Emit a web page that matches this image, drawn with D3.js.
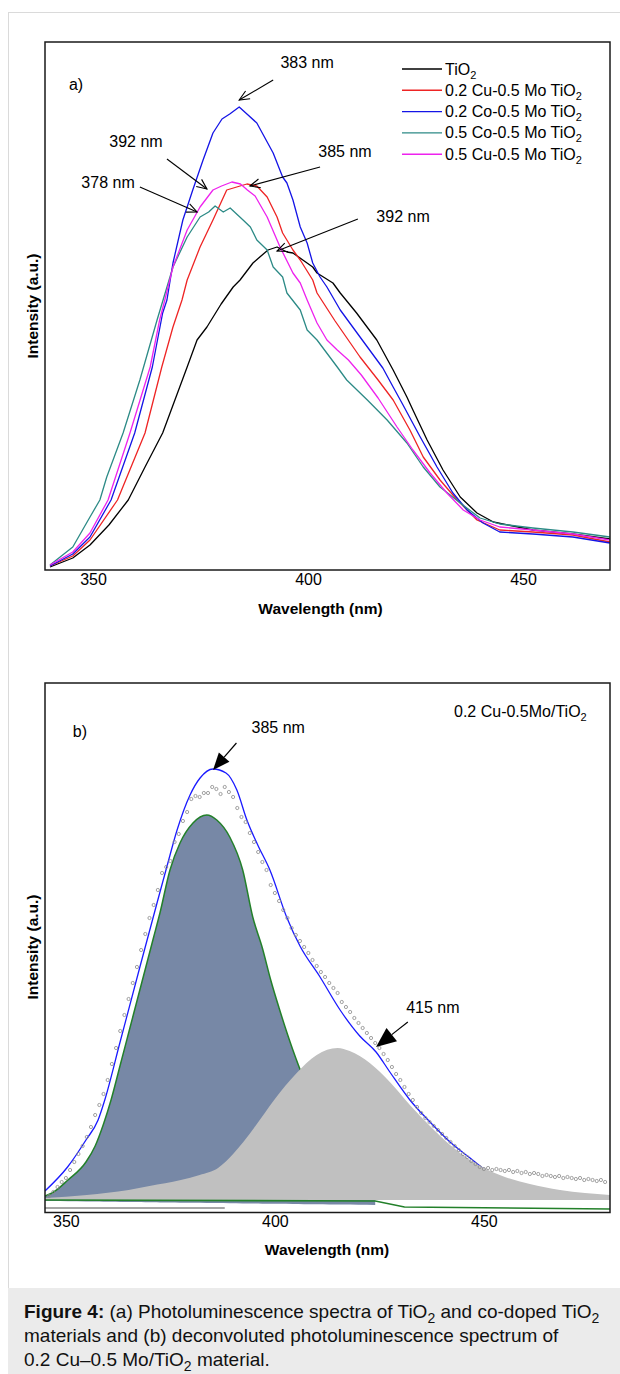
<!DOCTYPE html>
<html>
<head>
<meta charset="utf-8">
<script src="https://cdn.jsdelivr.net/npm/d3@7/dist/d3.min.js"></script>
<style>
  html, body { margin: 0; padding: 0; background: #ffffff; }
  svg { display: block; font-family: "Liberation Sans", Arial, Helvetica, sans-serif; }
  text { white-space: pre; }
</style>
</head>
<body>
<svg id="figure" width="620" height="1374"></svg>
<script>
// ===== Panel (a): photoluminescence spectra (wavelength in nm, intensity in a.u.) =====
const nmTiO2 = [340.0, 345.3, 349.3, 353.7, 358.2, 362.1, 366.2, 371.9, 374.2, 376.5, 379.8, 382.6, 384.2, 387.2, 388.8, 390.7, 392.8, 395.1, 396.5, 401.1, 402.1, 405.8, 407.5, 411.3, 416.0, 419.8, 423.0, 424.4, 427.7, 431.4, 435.4, 439.3, 443.1, 452.3, 461.6, 470.2];
const plTiO2 = [1.5, 6, 12.5, 22.5, 35, 51.5, 68.5, 101.5, 115, 121.5, 133, 141.5, 145, 153.5, 156.5, 160, 161.5, 159, 158.5, 151.5, 148.5, 143.5, 138.5, 128.5, 115, 100, 86.5, 80, 65, 50, 36.5, 28.5, 24, 20, 18, 15.5];

const nmCu02Mo05 = [340.0, 345.3, 349.3, 355.7, 362.1, 366.0, 368.6, 370.7, 371.9, 374.9, 377.9, 381.1, 384.2, 385.8, 388.1, 390.5, 392.8, 394.1, 396.5, 398.2, 401.1, 402.1, 406.3, 412.1, 416.3, 419.8, 423.7, 426.8, 430.7, 434.7, 439.3, 444.6, 452.3, 461.6, 470.2];
const plCu02Mo05 = [2, 7, 15, 35, 68.5, 101.5, 121.5, 135, 145, 161.5, 175, 190, 192, 193, 192, 186.5, 176.5, 168.5, 160, 155, 145, 138.5, 124.5, 106.5, 95, 85, 70, 56.5, 45, 35, 25, 20, 19, 17.5, 14];

const nmCo02Mo05 = [340.0, 345.3, 349.3, 354.2, 359.7, 363.8, 366.2, 367.2, 368.6, 370.9, 373.2, 375.6, 377.9, 380.0, 381.8, 384.0, 385.8, 388.1, 391.9, 394.1, 395.1, 396.5, 398.2, 399.8, 401.1, 402.8, 404.4, 407.5, 412.1, 417.4, 419.8, 422.1, 426.1, 430.0, 433.7, 437.0, 440.7, 444.6, 452.3, 461.6, 470.2];
const plCo02Mo05 = [2, 8, 16.5, 35, 68.5, 101.5, 128.5, 135, 153.5, 175, 190, 205, 218.5, 225.5, 228, 231.5, 228, 223.5, 208.5, 196.5, 193.5, 185, 171.5, 163.5, 153.5, 146.5, 141.5, 130, 116.5, 101, 91.5, 82.5, 66.5, 51.5, 38.5, 30, 23.5, 19, 18, 16.5, 13.5];

const nmCo05Mo05 = [340.0, 345.3, 349.3, 351.6, 353.2, 357.0, 360.9, 364.9, 368.6, 371.9, 374.9, 376.9, 378.4, 380.3, 381.9, 384.9, 386.6, 388.1, 390.5, 391.9, 394.1, 395.1, 398.2, 399.8, 402.1, 406.8, 409.0, 413.8, 418.4, 423.0, 426.8, 430.7, 435.4, 440.0, 444.6, 452.3, 461.6, 470.2];
const plCo05Mo05 = [2.5, 11.5, 26.5, 35, 46.5, 68.5, 95, 125, 151.5, 166.5, 176.5, 179, 182, 179, 181, 175, 171.5, 165, 160, 151.5, 146.5, 138.5, 130, 120, 115, 101.5, 95, 85, 75, 63.5, 51.5, 41.5, 33.5, 26, 23, 21, 19, 16.5];

const nmCu05Mo05 = [340.0, 345.3, 349.3, 353.5, 358.6, 363.3, 365.5, 366.7, 368.6, 371.9, 374.9, 377.9, 379.9, 382.3, 384.3, 385.9, 387.7, 390.5, 393.5, 396.5, 398.2, 399.8, 402.1, 404.4, 406.8, 409.4, 412.4, 416.3, 420.7, 424.4, 428.4, 432.3, 436.1, 440.0, 444.6, 452.3, 461.6, 470.2];
const plCu05Mo05 = [2.5, 9, 18.5, 35, 68.5, 101.5, 125, 135, 151.5, 170, 181.5, 190, 192, 194, 193, 190, 187, 176.5, 161.5, 148.5, 143.5, 135, 123.5, 115, 110, 105, 97.5, 86, 71.5, 60, 48.5, 38.5, 30, 25, 21.5, 20, 18, 15];

const legendLabels = ["TiO2", "0.2 Cu-0.5 Mo TiO2", "0.2 Co-0.5 Mo TiO2", "0.5 Co-0.5 Mo TiO2", "0.5 Cu-0.5 Mo TiO2"];
const wavelengthTicks = [350, 400, 450];

// ===== Panel (b): deconvoluted spectrum of 0.2 Cu-0.5Mo/TiO2 =====
const nmMeasured = [346, 347, 348, 349, 350, 351, 352, 353, 354, 355, 356, 357, 358, 359, 360, 361, 362, 363, 364, 365, 366, 367, 368, 369, 370, 371, 372, 373, 374, 375, 376, 377, 378, 379, 380, 381, 382, 383, 384, 385, 386, 387, 388, 389, 390, 391, 392, 393, 394, 395, 396, 397, 398, 399, 400, 401, 402, 403, 404, 405, 406, 407, 408, 409, 410, 411, 412, 413, 414, 415, 416, 417, 418, 419, 420, 421, 422, 423, 424, 425, 426, 427, 428, 429, 430, 431, 432, 433, 434, 435, 436, 437, 438, 439, 440, 441, 442, 443, 444, 445, 446, 447, 448, 449, 450, 451, 452, 453, 454, 455, 456, 457, 458, 459, 460, 461, 462, 463, 464, 465, 466, 467, 468, 469, 470, 471, 472, 473, 474, 475, 476, 477, 478, 479];
const plMeasured = [2, 4, 6.5, 9, 11, 15, 19, 23, 27, 31.5,
  36.5, 42.5, 47.5, 53, 60, 68, 76, 84.5, 92.5, 100.5,
  108.5, 116.5, 125, 133, 141, 147.5, 155, 163.5, 166.5, 169.5,
  179, 183, 189.5, 194, 200.5, 202, 201.5, 203.5, 203.5, 206.5,
  205.5, 203, 206.5, 204, 201.5, 196, 191.5, 189, 183.5, 179,
  174, 169, 165, 157.5, 153.5, 149.5, 145, 141, 136, 132.5,
  129.5, 126.5, 123.5, 120, 117, 114, 111.5, 108.5, 106, 103.5,
  99, 96.5, 94, 91, 88.5, 86, 83.5, 81, 78.5, 76,
  73, 70, 66.5, 63, 60, 56.5, 53, 50, 46.5, 43.5,
  41, 39, 37, 35, 33, 31, 29, 27, 25, 23,
  21.5, 19.5, 18, 16.5, 15.5, 16, 15, 15.5, 15, 14.5,
  15, 14, 14.5, 13.5, 14, 13, 13.5, 13, 12, 12.5,
  12, 11.5, 12, 11, 11.5, 11, 10.5, 11, 10, 10.5,
  10, 9.5, 10, 9];

const nmFitSum = [345.0, 350.4, 354.8, 357.7, 359.3, 362.9, 367.7, 371.8, 374.2, 376.6, 379.7, 382.1, 385.2, 388.3, 390.9, 393.3, 395.9, 398.8, 402.9, 406.0, 410.8, 415.6, 420.3, 424.2, 427.5, 432.3, 437.1, 441.9, 446.7, 451.4, 456.2, 463.4, 470.6, 480.2];
const plFitSum = [4.5, 16.5, 30, 40, 50, 78.5, 116.5, 148.5, 167, 185, 202.5, 211, 215.5, 213.5, 205, 190, 177.5, 165, 141, 127, 111.5, 95, 82, 74, 64, 50, 39, 29, 21, 13.5, 9.5, 6, 3.5, 1.5];

const nmBand385 = [345, 346.7, 350.5, 354.8, 357, 359, 360.8, 363, 365, 367, 369, 371, 372.5, 374.9, 377.3, 380.4, 383.7, 386.1, 389.2, 392.3, 394.7, 397, 399, 401, 404.3, 407, 410, 413, 416, 420, 424];
const plBand385 = [2, 3.5, 10, 19, 27, 38, 50, 67.5, 83.5, 99.5, 115.5, 131.5, 143.5, 165, 178.5, 188.5, 192.5, 190, 181.5, 165, 141.5, 126, 110, 96, 75, 60, 45, 33, 23, 14, 7];

const nmBand415 = [345, 355, 365, 370, 377.5, 382, 386.4, 390, 395, 400, 405, 410, 415, 417.9, 422.7, 427.5, 432.3, 437.1, 441.9, 446.7, 453.8, 461, 468.2, 480.2];
const plBand415 = [1, 2.5, 5, 7, 10, 12.5, 16, 23, 36, 50.5, 63, 72.5, 76, 74.5, 68.5, 59, 47.5, 37, 27.5, 20, 12.5, 8, 5, 2.5];

// baselines left under the fitted bands
const nmBand385Floor = [345, 424];
const plBand385Floor = [-0.5, -2.5];
const nmFitFloor = [345, 424, 431, 480.2];
const plFitFloor = [0, -0.5, -3.5, -4.5];
const nmRawFloor = [345, 388];
const plRawFloor = [-4, -4];

// ===== styling & layout =====
const lineColors = ["#000000", "#ee2424", "#1414e6", "#2c8a86", "#ee22ee"];
const boxA = { left: 45, right: 610, top: 42, bottom: 570 };
const boxB = { left: 45, right: 610, top: 683, bottom: 1212.5 };

const xA = d3.scaleLinear().domain([338.84, 470.23]).range([boxA.left, boxA.right]);
const yA = d3.scaleLinear().domain([0, 264]).range([boxA.bottom, boxA.top]);
const xB = d3.scaleLinear().domain([345, 480.17]).range([boxB.left, boxB.right]);
const yB = d3.scaleLinear().domain([-6.25, 258.5]).range([boxB.bottom, boxB.top]);

const svg = d3.select("#figure");

// subscripted "TiO2" helper
function chemText(sel, str, subSize, shift) {
  let lowered = false;
  const add = (t, sub) => {
    const ts = sel.append("tspan").text(t);
    if (sub) { ts.attr("dy", shift).attr("font-size", subSize); lowered = true; }
    else if (lowered) { ts.attr("dy", -shift); lowered = false; }
  };
  const parts = str.split("TiO2");
  parts.forEach((p, i) => {
    if (p) add(p, false);
    if (i < parts.length - 1) { add("TiO", false); add("2", true); }
  });
}

function openArrow(g, x1, y1, x2, y2, len, ang) {
  g.append("line").attr("x1", x1).attr("y1", y1).attr("x2", x2).attr("y2", y2)
    .attr("stroke", "#000").attr("stroke-width", 1.1);
  const a = Math.atan2(y2 - y1, x2 - x1);
  const p1 = [x2 - len * Math.cos(a - ang), y2 - len * Math.sin(a - ang)];
  const p2 = [x2 - len * Math.cos(a + ang), y2 - len * Math.sin(a + ang)];
  g.append("path").attr("d", `M${p1[0]},${p1[1]}L${x2},${y2}L${p2[0]},${p2[1]}`)
    .attr("fill", "none").attr("stroke", "#000").attr("stroke-width", 1.1);
}

function solidArrow(g, x1, y1, x2, y2, len, half) {
  const a = Math.atan2(y2 - y1, x2 - x1);
  const bx = x2 - len * Math.cos(a), by = y2 - len * Math.sin(a);
  g.append("line").attr("x1", x1).attr("y1", y1).attr("x2", bx).attr("y2", by)
    .attr("stroke", "#000").attr("stroke-width", 1.2);
  const nx = -Math.sin(a) * half, ny = Math.cos(a) * half;
  g.append("path").attr("d", `M${x2},${y2}L${bx + nx},${by + ny}L${bx - nx},${by - ny}Z`).attr("fill", "#000");
}

// ----- outer frame and caption strip -----
svg.append("rect").attr("x", 8.5).attr("y", 12.5).attr("width", 700).attr("height", 1276)
  .attr("fill", "none").attr("stroke", "#dadada");
svg.append("rect").attr("x", 8).attr("y", 1288).attr("width", 612).attr("height", 86).attr("fill", "#ebebeb");

const defs = svg.append("defs");
defs.append("clipPath").attr("id", "clipA").append("rect")
  .attr("x", boxA.left).attr("y", boxA.top).attr("width", boxA.right - boxA.left).attr("height", boxA.bottom - boxA.top);
defs.append("clipPath").attr("id", "clipB").append("rect")
  .attr("x", boxB.left).attr("y", boxB.top).attr("width", boxB.right - boxB.left).attr("height", boxB.bottom - boxB.top);

// ================= Panel (a) =================
const seriesA = [
  [nmTiO2, plTiO2], [nmCu02Mo05, plCu02Mo05], [nmCo02Mo05, plCo02Mo05],
  [nmCo05Mo05, plCo05Mo05], [nmCu05Mo05, plCu05Mo05]
];
const lineA = d3.line().x(d => xA(d[0])).y(d => yA(d[1]));
const plotA = svg.append("g").attr("clip-path", "url(#clipA)");
seriesA.forEach((s, i) => {
  plotA.append("path").datum(d3.zip(s[0], s[1])).attr("d", lineA)
    .attr("fill", "none").attr("stroke", lineColors[i]).attr("stroke-width", 1.3)
    .attr("stroke-linejoin", "round");
});

svg.append("rect").attr("x", boxA.left).attr("y", boxA.top)
  .attr("width", boxA.right - boxA.left).attr("height", boxA.bottom - boxA.top)
  .attr("fill", "none").attr("stroke", "#1a1a1a").attr("stroke-width", 1.5);

const axisA = svg.append("g").attr("transform", `translate(0,${boxA.bottom})`)
  .call(d3.axisBottom(xA).tickValues(wavelengthTicks).tickSize(0).tickPadding(4).tickFormat(d3.format("d")));
axisA.select(".domain").remove();
axisA.attr("font-size", 16).attr("font-family", null);
axisA.selectAll("text").attr("fill", "#000");

svg.append("text").attr("x", 320.5).attr("y", 613.5).attr("text-anchor", "middle")
  .attr("font-size", 15.5).attr("font-weight", "bold").text("Wavelength (nm)");
svg.append("text").attr("transform", "translate(37.5,306) rotate(-90)").attr("text-anchor", "middle")
  .attr("font-size", 15.5).attr("font-weight", "bold").text("Intensity (a.u.)");

// legend
const legend = svg.append("g");
legendLabels.forEach((lab, i) => {
  const y = 69 + i * 21.3;
  legend.append("line").attr("x1", 402).attr("x2", 442).attr("y1", y).attr("y2", y)
    .attr("stroke", lineColors[i]).attr("stroke-width", 1.4);
  const t = legend.append("text").attr("x", 445).attr("y", y + 5.5).attr("font-size", 16);
  chemText(t, lab, 11, 4);
});

svg.append("text").attr("x", xA(346.05)).attr("y", yA(243)).attr("dy", "0.35em")
  .attr("text-anchor", "middle").attr("font-size", 16).text("a)");

// peak annotations (positions in data units)
const notesA = [
  { label: "383 nm", at: [399.8, 254], from: [391.9, 245], to: [384.0, 235] },
  { label: "392 nm", at: [360.0, 214.5], from: [367.2, 205.5], to: [376.5, 190.5] },
  { label: "378 nm", at: [353.5, 194], from: [360.9, 191.5], to: [374.2, 179] },
  { label: "385 nm", at: [408.6, 209.5], from: [402.8, 201.5], to: [386.5, 192] },
  { label: "392 nm", at: [422.1, 177], from: [411.6, 175.5], to: [392.8, 159.5] }
];
const annA = svg.append("g");
notesA.forEach(n => {
  annA.append("text").attr("x", xA(n.at[0])).attr("y", yA(n.at[1])).attr("dy", "0.35em")
    .attr("text-anchor", "middle").attr("font-size", 16).text(n.label);
  openArrow(annA, xA(n.from[0]), yA(n.from[1]), xA(n.to[0]), yA(n.to[1]), 11, 0.42);
});

// ================= Panel (b) =================
const plotB = svg.append("g").attr("clip-path", "url(#clipB)");
const band385Floor = d3.scaleLinear().domain(nmBand385Floor).range(plBand385Floor);

// 385 nm band
plotB.append("path").datum(d3.zip(nmBand385, plBand385))
  .attr("d", d3.area().x(d => xB(d[0])).y0(d => yB(band385Floor(d[0]))).y1(d => yB(d[1])).curve(d3.curveMonotoneX))
  .attr("fill", "#7788a6");
plotB.append("path").datum(d3.zip(nmBand385, plBand385))
  .attr("d", d3.line().x(d => xB(d[0])).y(d => yB(d[1])).curve(d3.curveMonotoneX))
  .attr("fill", "none").attr("stroke", "#23802a").attr("stroke-width", 1.5);

// cumulative fit
plotB.append("path").datum(d3.zip(nmFitSum, plFitSum))
  .attr("d", d3.line().x(d => xB(d[0])).y(d => yB(d[1])).curve(d3.curveMonotoneX))
  .attr("fill", "none").attr("stroke", "#1a1aff").attr("stroke-width", 1.3);

// 415 nm band
plotB.append("path").datum(d3.zip(nmBand415, plBand415))
  .attr("d", d3.area().x(d => xB(d[0])).y0(yB(0)).y1(d => yB(d[1])).curve(d3.curveMonotoneX))
  .attr("fill", "#c0c0c0");

// baselines
plotB.append("path").datum(d3.zip(nmFitFloor, plFitFloor))
  .attr("d", d3.line().x(d => xB(d[0])).y(d => yB(d[1])))
  .attr("fill", "none").attr("stroke", "#23802a").attr("stroke-width", 1.6);
plotB.append("path").datum(d3.zip(nmRawFloor, plRawFloor))
  .attr("d", d3.line().x(d => xB(d[0])).y(d => yB(d[1])))
  .attr("fill", "none").attr("stroke", "#a6a6a6").attr("stroke-width", 2);

// measured points
plotB.selectAll("circle.pt").data(d3.zip(nmMeasured, plMeasured)).join("circle")
  .attr("class", "pt").attr("cx", d => xB(d[0])).attr("cy", d => yB(d[1])).attr("r", 1.6)
  .attr("fill", "none").attr("stroke", "#8a8a8a").attr("stroke-width", 0.8);

svg.append("rect").attr("x", boxB.left).attr("y", boxB.top)
  .attr("width", boxB.right - boxB.left).attr("height", boxB.bottom - boxB.top)
  .attr("fill", "none").attr("stroke", "#1a1a1a").attr("stroke-width", 1.5);

const axisB = svg.append("g").attr("transform", `translate(0,${boxB.bottom})`)
  .call(d3.axisBottom(xB).tickValues(wavelengthTicks).tickSize(0).tickPadding(3).tickFormat(d3.format("d")));
axisB.select(".domain").remove();
axisB.attr("font-size", 16).attr("font-family", null);
axisB.selectAll("text").attr("fill", "#000");

svg.append("text").attr("x", 327).attr("y", 1255).attr("text-anchor", "middle")
  .attr("font-size", 15.5).attr("font-weight", "bold").text("Wavelength (nm)");
svg.append("text").attr("transform", "translate(37.5,947) rotate(-90)").attr("text-anchor", "middle")
  .attr("font-size", 15.5).attr("font-weight", "bold").text("Intensity (a.u.)");

svg.append("text").attr("x", xB(353.35)).attr("y", yB(234.5)).attr("dy", "0.35em")
  .attr("text-anchor", "middle").attr("font-size", 16).text("b)");
const sampleLabel = svg.append("text").attr("x", xB(474.6)).attr("y", yB(241.5))
  .attr("text-anchor", "end").attr("font-size", 16);
chemText(sampleLabel, "0.2 Cu-0.5Mo/TiO2", 11, 4);

const notesB = [
  { label: "385 nm", at: [400.8, 236.5], from: [390.8, 228.5], to: [385.2, 215], head: 17, half: 7 },
  { label: "415 nm", at: [437.8, 96.5], from: [431.8, 89], to: [424.2, 76.5], head: 20, half: 8.5 }
];
const annB = svg.append("g");
notesB.forEach(n => {
  annB.append("text").attr("x", xB(n.at[0])).attr("y", yB(n.at[1])).attr("dy", "0.35em")
    .attr("text-anchor", "middle").attr("font-size", 16).text(n.label);
  solidArrow(annB, xB(n.from[0]), yB(n.from[1]), xB(n.to[0]), yB(n.to[1]), n.head, n.half);
});

// ================= Caption =================
const cap = svg.append("g").attr("font-size", 19).attr("fill", "#111");
const c1 = cap.append("text").attr("x", 24).attr("y", 1318);
c1.append("tspan").attr("font-weight", "bold").text("Figure 4:");
chemText(c1, " (a) Photoluminescence spectra of TiO2 and co-doped TiO2", 14, 5);
cap.append("text").attr("x", 24).attr("y", 1342).text("materials and (b) deconvoluted photoluminescence spectrum of");
const c3 = cap.append("text").attr("x", 24).attr("y", 1366);
chemText(c3, "0.2 Cu\u20130.5 Mo/TiO2 material.", 14, 5);
</script>
</body>
</html>
